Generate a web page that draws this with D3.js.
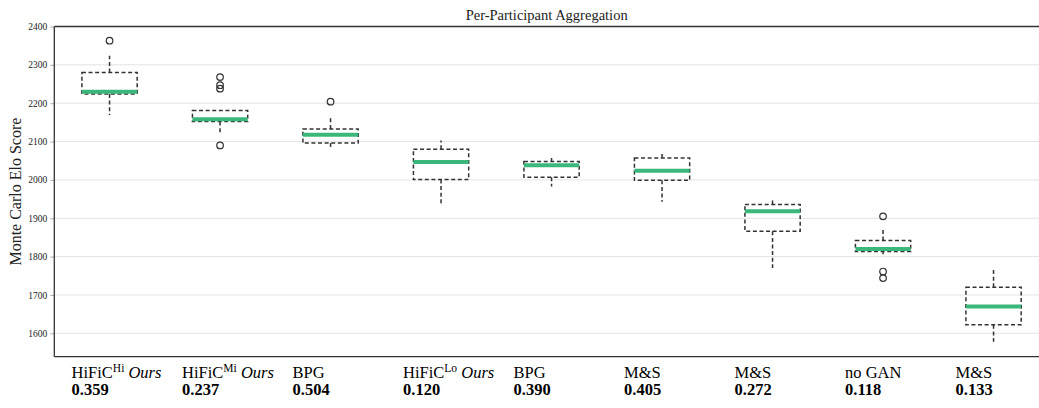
<!DOCTYPE html>
<html>
<head>
<meta charset="utf-8">
<script src="https://cdn.jsdelivr.net/npm/d3@7"></script>
<style>
  html, body { margin: 0; padding: 0; background: #fff; }
  svg { display: block; }
</style>
</head>
<body>
<svg id="chart" width="1039" height="408"></svg>
<script>
// ---------------- data ----------------
const methods      = ["HiFiC", "HiFiC", "BPG", "HiFiC", "BPG", "M&S", "M&S", "no GAN", "M&S"];
const superscripts = ["Hi", "Mi", "", "Lo", "", "", "", "", ""];
const isOurs       = [true, true, false, true, false, false, false, false, false];
const bitrates     = ["0.359", "0.237", "0.504", "0.120", "0.390", "0.405", "0.272", "0.118", "0.133"];

const whiskerHigh  = [2324, 2181, 2166, 2103, 2057, 2071, 1949, 1872, 1769];
const q3           = [2280, 2181, 2133, 2080, 2048, 2057, 1936, 1842, 1720];
const medians      = [2230, 2158, 2118, 2047, 2038, 2024, 1918, 1820, 1670];
const q1           = [2224, 2152, 2096, 2001, 2007, 1999, 1866, 1813, 1622];
const whiskerLow   = [2169, 2119, 2086, 1935, 1983, 1943, 1770, 1806, 1578];
const outliers     = [[2363], [2268, 2247, 2238, 2090], [2204], [], [], [], [], [1905, 1761, 1744], []];

const yTicks       = [1600, 1700, 1800, 1900, 2000, 2100, 2200, 2300, 2400];
const titleText    = "Per-Participant Aggregation";
const yLabelText   = "Monte Carlo Elo Score";

// ---------------- layout ----------------
(function () {
const svg = d3.select("#chart");
const W = 1039, H = 408;
const mLeft = 54.3, mTop = 26.5, mBottom = 356.7;
const step = 110.5;
const mRight = mLeft + step * methods.length;

const x = d3.scaleBand()
  .domain(d3.range(methods.length))
  .range([mLeft, mRight])
  .padding(0);
const y = d3.scaleLinear().domain([1539, 2400]).range([mBottom, mTop]);

const dark = "#333333";
const green = "#3bb77b";
const serif = "'Liberation Serif', 'Times New Roman', serif";

// grid
svg.append("g").selectAll("line").data(yTicks).join("line")
  .attr("x1", mLeft).attr("x2", W)
  .attr("y1", d => y(d)).attr("y2", d => y(d))
  .attr("stroke", "#e3e3e3").attr("stroke-width", 1);

// y axis
const yAxis = d3.axisLeft(y).tickValues(yTicks).tickSize(4).tickPadding(3).tickFormat(d3.format("d"));
const gy = svg.append("g").attr("transform", `translate(${mLeft},0)`).call(yAxis);
gy.select(".domain").remove();
gy.selectAll(".tick line").attr("stroke", "#999").attr("stroke-width", 0.8);
gy.selectAll(".tick text").attr("font-family", serif).attr("font-size", 9.5).attr("fill", "#222");

// spines
svg.append("line").attr("x1", mLeft).attr("x2", mLeft).attr("y1", mTop).attr("y2", mBottom)
  .attr("stroke", dark).attr("stroke-width", 1.3);
svg.append("line").attr("x1", mLeft).attr("x2", W).attr("y1", mTop).attr("y2", mTop)
  .attr("stroke", dark).attr("stroke-width", 1.3);
svg.append("line").attr("x1", mLeft).attr("x2", W).attr("y1", mBottom).attr("y2", mBottom)
  .attr("stroke", dark).attr("stroke-width", 1.3);

// boxes
const bw = x.bandwidth() * 0.5;
const dash = "4,2.6";
const boxes = svg.append("g").selectAll("g").data(d3.range(methods.length)).join("g")
  .attr("transform", i => `translate(${x(i) + x.bandwidth() / 2},0)`);

boxes.append("line") // upper whisker
  .attr("x1", 0).attr("x2", 0)
  .attr("y1", i => y(q3[i])).attr("y2", i => y(whiskerHigh[i]))
  .attr("stroke", dark).attr("stroke-width", 1.5).attr("stroke-dasharray", dash);
boxes.append("line") // lower whisker
  .attr("x1", 0).attr("x2", 0)
  .attr("y1", i => y(q1[i])).attr("y2", i => y(whiskerLow[i]))
  .attr("stroke", dark).attr("stroke-width", 1.5).attr("stroke-dasharray", dash);
boxes.append("rect")
  .attr("x", -bw / 2).attr("width", bw)
  .attr("y", i => y(q3[i])).attr("height", i => y(q1[i]) - y(q3[i]))
  .attr("fill", "none").attr("stroke", dark).attr("stroke-width", 1.5).attr("stroke-dasharray", dash);
boxes.append("line") // median
  .attr("x1", -bw / 2).attr("x2", bw / 2)
  .attr("y1", i => y(medians[i])).attr("y2", i => y(medians[i]))
  .attr("stroke", green).attr("stroke-width", 4);
boxes.each(function (i) {
  d3.select(this).selectAll("circle").data(outliers[i]).join("circle")
    .attr("cx", 0).attr("cy", d => y(d)).attr("r", 3.3)
    .attr("fill", "none").attr("stroke", dark).attr("stroke-width", 1.2);
});

// x labels
const labels = svg.append("g").selectAll("g").data(d3.range(methods.length)).join("g")
  .attr("transform", i => `translate(${x(i) + x.bandwidth() / 2 - 38},0)`);
const l1 = labels.append("text")
  .attr("x", 0).attr("y", 378)
  .attr("font-family", serif).attr("font-size", 16.5).attr("fill", "#000");
l1.append("tspan").text(i => methods[i]);
l1.filter(i => superscripts[i] !== "").append("tspan")
  .attr("font-size", 11.5).attr("dy", -6).text(i => superscripts[i]);
l1.filter(i => isOurs[i]).append("tspan")
  .attr("dy", i => superscripts[i] !== "" ? 6 : 0).attr("font-style", "italic").text("\u00a0Ours");
labels.append("text")
  .attr("x", 0).attr("y", 395)
  .attr("font-family", serif).attr("font-size", 16.5).attr("font-weight", "bold").attr("fill", "#000")
  .text(i => bitrates[i]);

// title
svg.append("text")
  .attr("x", (mLeft + W) / 2).attr("y", 19.5)
  .attr("text-anchor", "middle")
  .attr("font-family", serif).attr("font-size", 14.5).attr("fill", "#222")
  .text(titleText);

// y label
svg.append("text")
  .attr("transform", `translate(20.5,${(mTop + mBottom) / 2}) rotate(-90)`)
  .attr("text-anchor", "middle")
  .attr("font-family", serif).attr("font-size", 16).attr("fill", "#222")
  .text(yLabelText);
})();
</script>
</body>
</html>
